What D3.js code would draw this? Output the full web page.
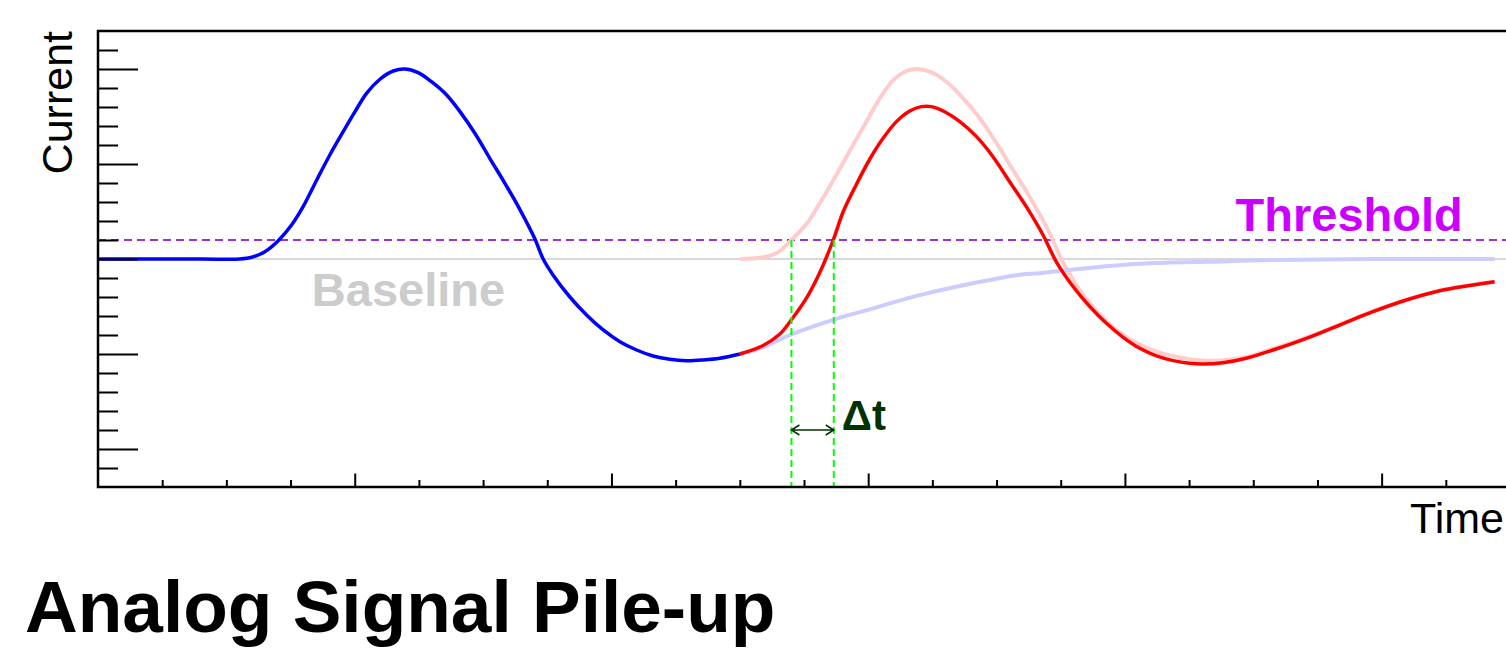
<!DOCTYPE html>
<html>
<head>
<meta charset="utf-8">
<script src="https://cdn.jsdelivr.net/npm/d3@7"></script>
<style>
  body { margin: 0; background: #fff; }
  svg { display: block; font-family: "Liberation Sans", Arial, Helvetica, sans-serif; }
</style>
</head>
<body>
<div id="chart"></div>
<script>
// first pulse (blue): [time, current]
const bluePulse = [
    [0, 0], [0.40, 0], [0.553, 0], [0.599, 0.018], [0.650, 0.077], [0.702, 0.193],
    [0.754, 0.358], [0.799, 0.551], [0.852, 0.832], [0.903, 1.095], [0.955, 1.340],
    [1.001, 1.551], [1.046, 1.744], [1.098, 1.892], [1.150, 1.979], [1.195, 2.0],
    [1.247, 1.961], [1.299, 1.866], [1.358, 1.726], [1.410, 1.551], [1.468, 1.323],
    [1.526, 1.060], [1.585, 0.797], [1.643, 0.523], [1.702, 0.21], [1.734, 0.0],
    [1.773, -0.17], [1.838, -0.40], [1.903, -0.589], [1.968, -0.747], [2.033, -0.871],
    [2.098, -0.958], [2.162, -1.021], [2.227, -1.056], [2.292, -1.071], [2.357, -1.063],
    [2.422, -1.045], [2.5, -1.0]
];

// tail of the first pulse after the second one arrives (light blue)
const blueTail = [
    [2.5, -1.0], [2.591, -0.93], [2.695, -0.80], [2.863, -0.64], [3.006, -0.53],
    [3.201, -0.38], [3.578, -0.17], [3.668, -0.15], [3.798, -0.11], [4.058, -0.05],
    [4.317, -0.03], [4.577, -0.01], [4.966, 0], [5.44, 0]
];

// second pulse on its own (light red)
const secondPulse = [
    [2.5, 0], [2.591, 0.018], [2.649, 0.071], [2.701, 0.2], [2.760, 0.37], [2.812, 0.59],
    [2.877, 0.89], [2.941, 1.2], [2.993, 1.445], [3.045, 1.69], [3.097, 1.88],
    [3.149, 1.979], [3.194, 2.0], [3.247, 1.965], [3.305, 1.866], [3.370, 1.691],
    [3.435, 1.481], [3.500, 1.218], [3.564, 0.937], [3.629, 0.656], [3.694, 0.34],
    [3.772, -0.10], [3.863, -0.467], [3.993, -0.8], [4.123, -0.976], [4.252, -1.056],
    [4.317, -1.071], [4.382, -1.065], [4.473, -1.03], [4.577, -0.945], [4.707, -0.825],
    [4.836, -0.69], [4.966, -0.55], [5.096, -0.43], [5.226, -0.333], [5.356, -0.272],
    [5.44, -0.237]
];

// what is actually measured: the piled-up sum (red)
const pileUp = [
    [2.5, -1.0], [2.591, -0.91], [2.656, -0.79], [2.701, -0.64], [2.760, -0.41],
    [2.812, -0.14], [2.864, 0.2], [2.903, 0.50], [2.955, 0.79], [3.006, 1.05],
    [3.058, 1.27], [3.110, 1.446], [3.162, 1.558], [3.207, 1.604], [3.247, 1.604],
    [3.298, 1.55], [3.357, 1.446], [3.422, 1.288], [3.486, 1.077], [3.551, 0.814],
    [3.616, 0.551], [3.681, 0.253], [3.733, -0.03], [3.798, -0.29], [3.863, -0.5],
    [3.928, -0.677], [3.993, -0.824], [4.058, -0.94], [4.123, -1.02], [4.188, -1.07],
    [4.252, -1.098], [4.304, -1.105], [4.382, -1.092], [4.473, -1.045], [4.577, -0.958],
    [4.707, -0.835], [4.836, -0.695], [4.966, -0.555], [5.096, -0.432], [5.226, -0.334],
    [5.356, -0.274], [5.44, -0.239]
];

const baselineLevel = 0;
const thresholdLevel = 0.2;
const crossings = [2.701, 2.866];   // threshold crossing without / with pile-up
const arrowLevel = -1.8;

const xMajorTicks = [1, 2, 3, 4, 5];
const xMinorTicks = [0.25, 0.5, 0.75, 1.25, 1.5, 1.75, 2.25, 2.5, 2.75, 3.25, 3.5, 3.75,
                     4.25, 4.5, 4.75, 5.25];
const yMajorTicks = [-2, -1, 0, 1, 2];
const yMinorTicks = [-2.2, -1.8, -1.6, -1.4, -1.2, -0.8, -0.6, -0.4, -0.2,
                     0.2, 0.4, 0.6, 0.8, 1.2, 1.4, 1.6, 1.8, 2.2];

const W = 1506, H = 658;
const margin = { top: 31, left: 98 };
const plotW = 1412, plotH = 456;

const svg = d3.select("#chart").append("svg")
    .attr("width", W)
    .attr("height", H);

const x = d3.scaleLinear().domain([0, 5.5]).range([margin.left, margin.left + plotW]);
const y = d3.scaleLinear().domain([-2.4, 2.4]).range([margin.top + plotH, margin.top]);

const line = d3.line()
    .x(d => x(d[0]))
    .y(d => y(d[1]))
    .curve(d3.curveCatmullRom.alpha(0.5));

// baseline and threshold
svg.append("line")
    .attr("x1", x(0)).attr("x2", x(5.5))
    .attr("y1", y(baselineLevel)).attr("y2", y(baselineLevel))
    .attr("stroke", "#cccccc").attr("stroke-width", 1.5);

svg.append("line")
    .attr("x1", x(0)).attr("x2", x(5.5))
    .attr("y1", y(thresholdLevel)).attr("y2", y(thresholdLevel))
    .attr("stroke", "#9933cc").attr("stroke-width", 2)
    .attr("stroke-dasharray", "8,5");

// curves
svg.append("path").datum(secondPulse)
    .attr("fill", "none").attr("stroke", "#ffcccc").attr("stroke-width", 4)
    .attr("d", line);

svg.append("path").datum(blueTail)
    .attr("fill", "none").attr("stroke", "#ccccff").attr("stroke-width", 4)
    .attr("d", line);

svg.append("path").datum(bluePulse)
    .attr("fill", "none").attr("stroke", "#0000ff").attr("stroke-width", 3.5)
    .attr("d", line);

svg.append("path").datum(pileUp)
    .attr("fill", "none").attr("stroke", "#ff0000").attr("stroke-width", 3.5)
    .attr("d", line);

// green markers at the threshold crossings
svg.selectAll(".cross").data(crossings).enter().append("line")
    .attr("class", "cross")
    .attr("x1", d => x(d)).attr("x2", d => x(d))
    .attr("y1", y(thresholdLevel)).attr("y2", y(-2.4))
    .attr("stroke", "#00ff00").attr("stroke-width", 2)
    .attr("stroke-dasharray", "7,4");

// delta t arrow
const ax1 = x(crossings[0]), ax2 = x(crossings[1]), ay = y(arrowLevel);
svg.append("path")
    .attr("d", `M${ax1},${ay}H${ax2} M${ax1 + 8},${ay - 5}L${ax1},${ay}L${ax1 + 8},${ay + 5} M${ax2 - 8},${ay - 5}L${ax2},${ay}L${ax2 - 8},${ay + 5}`)
    .attr("fill", "none").attr("stroke", "#003300").attr("stroke-width", 1.5);

// axes
const xMajor = svg.append("g")
    .attr("transform", `translate(0,${y(-2.4)})`)
    .call(d3.axisBottom(x).tickValues(xMajorTicks).tickSize(-13.5).tickSizeOuter(0).tickFormat(""));
const xMinor = svg.append("g")
    .attr("transform", `translate(0,${y(-2.4)})`)
    .call(d3.axisBottom(x).tickValues(xMinorTicks).tickSize(-7).tickSizeOuter(0).tickFormat(""));
const yMajor = svg.append("g")
    .attr("transform", `translate(${x(0)},0)`)
    .call(d3.axisLeft(y).tickValues(yMajorTicks).tickSize(-40).tickSizeOuter(0).tickFormat(""));
const yMinor = svg.append("g")
    .attr("transform", `translate(${x(0)},0)`)
    .call(d3.axisLeft(y).tickValues(yMinorTicks).tickSize(-20).tickSizeOuter(0).tickFormat(""));

[xMajor, xMinor, yMajor, yMinor].forEach(g => {
    g.select(".domain").remove();
    g.selectAll(".tick line").attr("stroke", "#000").attr("stroke-width", 2);
});

// frame
svg.append("path")
    .attr("d", `M${x(5.5)},${y(2.4)}H${x(0)}V${y(-2.4)}H${x(5.5)}`)
    .attr("fill", "none").attr("stroke", "#000").attr("stroke-width", 2.5);

// labels
svg.append("text")
    .attr("x", x(0.833)).attr("y", y(-0.495))
    .attr("font-size", 47).attr("font-weight", "bold").attr("fill", "#cccccc")
    .text("Baseline");

svg.append("text")
    .attr("x", x(4.431)).attr("y", y(0.29))
    .attr("font-size", 47).attr("font-weight", "bold").attr("fill", "#cc00ff")
    .text("Threshold");

svg.append("text")
    .attr("x", x(crossings[1]) + 8).attr("y", y(arrowLevel))
    .attr("font-size", 42).attr("font-weight", "bold").attr("fill", "#003300")
    .text("Δt");

svg.append("text")
    .attr("x", 1504).attr("y", 533)
    .attr("text-anchor", "end").attr("font-size", 43)
    .text("Time");

svg.append("text")
    .attr("transform", "translate(72,31) rotate(-90)")
    .attr("text-anchor", "end").attr("font-size", 43)
    .text("Current");

svg.append("text")
    .attr("x", 25).attr("y", 632)
    .attr("font-size", 73).attr("font-weight", "bold")
    .text("Analog Signal Pile-up");
</script>
</body>
</html>
